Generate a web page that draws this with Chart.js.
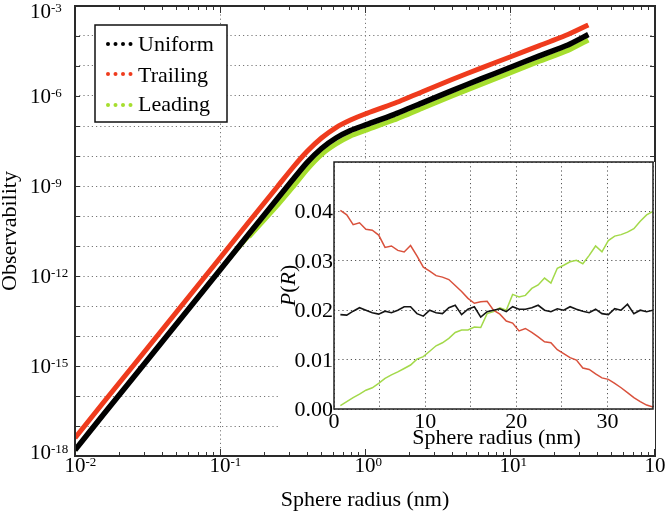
<!DOCTYPE html>
<html><head><meta charset="utf-8">
<script src="https://cdn.jsdelivr.net/npm/chart.js@4"></script>
<style>
html,body{margin:0;padding:0;background:#fff;}
#wrap{position:relative;width:666px;height:512px;overflow:hidden;}
#main{position:absolute;left:0;top:0;}
#inset{position:absolute;left:276px;top:158px;}
</style></head><body>
<div id="wrap"><canvas id="main" width="666" height="512"></canvas><canvas id="inset" width="379" height="296"></canvas></div>
<script>
// ---- main (log-log) data ----
const mainRadius   = [0.01,0.0158,0.0251,0.0398,0.0631,0.1,0.158,0.251,0.316,0.398,0.501,0.631,0.794,1.0,1.58,2.51,3.98,6.31,10,15.8,25.1,34.7];
const mainUniform  = [1.58e-18,2.51e-17,3.98e-16,6.31e-15,1.0e-13,1.58e-12,2.51e-11,3.98e-10,1.58e-9,6.03e-9,1.78e-8,3.98e-8,7.08e-8,1.07e-7,2.40e-7,6.03e-7,1.51e-6,3.72e-6,8.91e-6,2.14e-5,5.01e-5,1.12e-4];
const mainTrailing = [3.98e-18,6.31e-17,1.0e-15,1.58e-14,2.51e-13,3.98e-12,6.31e-11,1.0e-9,3.98e-9,1.41e-8,3.98e-8,8.91e-8,1.58e-7,2.51e-7,5.62e-7,1.41e-6,3.55e-6,8.51e-6,2.0e-5,4.68e-5,1.12e-4,2.34e-4];
const mainLeading  = [1.51e-18,2.40e-17,3.80e-16,6.03e-15,9.55e-14,1.51e-12,2.0e-11,2.40e-10,8.91e-10,3.55e-9,1.12e-8,2.51e-8,4.68e-8,7.08e-8,1.58e-7,3.98e-7,1.0e-6,2.45e-6,5.89e-6,1.41e-5,3.31e-5,7.41e-5];

// main axis ticks / grid
const mainXGrid = [0.1,1,10];
const mainYGrid = [1e-17,1e-16,1e-15,1e-14,1e-13,1e-12,1e-11,1e-10,1e-9,1e-8,1e-7,1e-6,1e-5,1e-4];
const mainXLabelVals = [0.01,0.1,1,10,100];
const mainXLabelExps = ['-2','-1','0','1','2'];
const mainYLabelVals = [1e-18,1e-15,1e-12,1e-9,1e-6,1e-3];
const mainYLabelExps = ['-18','-15','-12','-9','-6','-3'];

// ---- inset (linear) data ----
const insetRadius   = [0.7,1.4,2.1,2.8,3.5,4.2,4.9,5.6,6.3,7.0,7.7,8.4,9.1,9.8,10.5,11.2,11.9,12.6,13.3,14.0,14.7,15.4,16.1,16.8,17.5,18.2,18.9,19.6,20.3,21.0,21.7,22.4,23.1,23.8,24.5,25.2,25.9,26.6,27.3,28.0,28.7,29.4,30.1,30.8,31.5,32.2,32.9,33.6,34.3,35.0];
const insetUniform  = [0.0191,0.0190,0.0198,0.0205,0.0200,0.0195,0.0192,0.0198,0.0195,0.0200,0.0207,0.0207,0.0193,0.0188,0.0200,0.0195,0.0193,0.0205,0.0210,0.0191,0.0202,0.0207,0.0186,0.0197,0.0200,0.0203,0.0197,0.0207,0.0202,0.0202,0.0205,0.0210,0.0200,0.0197,0.0203,0.0200,0.0207,0.0202,0.0198,0.0195,0.0202,0.0193,0.0191,0.0203,0.0200,0.0212,0.0193,0.0200,0.0197,0.0200];
const insetTrailing = [0.0402,0.0393,0.0373,0.0377,0.0364,0.0362,0.0352,0.0327,0.0330,0.0321,0.0318,0.0331,0.0310,0.0287,0.0279,0.0270,0.0267,0.0262,0.0250,0.0238,0.0224,0.0214,0.0217,0.0218,0.0200,0.0192,0.0178,0.0174,0.0158,0.0163,0.0155,0.0146,0.0136,0.0134,0.0120,0.0112,0.0104,0.0099,0.0083,0.0080,0.0071,0.0063,0.0060,0.0052,0.0043,0.0033,0.0023,0.0015,0.0008,0.0004];
const insetLeading  = [0.0007,0.0015,0.0023,0.0030,0.0038,0.0043,0.0052,0.0062,0.0069,0.0075,0.0082,0.0089,0.0101,0.0106,0.0117,0.0128,0.0134,0.0143,0.0155,0.0160,0.0160,0.0166,0.0165,0.0193,0.0197,0.0205,0.0200,0.0232,0.0227,0.0230,0.0244,0.0251,0.0265,0.0255,0.0285,0.0291,0.0298,0.0301,0.0294,0.0311,0.0330,0.0318,0.0341,0.0350,0.0353,0.0358,0.0365,0.0380,0.0393,0.0400];
const insetXLabels = [0,10,20,30];
const insetYLabels = [0,0.01,0.02,0.03,0.04];

const legendNames  = ['Uniform','Trailing','Leading'];
const legendColors = ['#000000','#ef3b1d','#a6de2e'];

const SERIF = "'Liberation Serif','Times New Roman',serif";
const pts = (xs, ys) => xs.map((x, i) => ({x: x, y: ys[i]}));

function pow10Label(ctx, exp, x, baseY, align) {
  ctx.font = '21px ' + SERIF;
  const w10 = ctx.measureText('10').width;
  let x0 = align === 'center10' ? x - w10 / 2 : x;
  ctx.textAlign = 'left';
  ctx.textBaseline = 'alphabetic';
  ctx.font = '21px ' + SERIF;
  ctx.fillText('10', x0, baseY);
  ctx.font = '13px ' + SERIF;
  ctx.fillText(exp, x0 + w10, baseY - 6);
}

const mainDecor = {
  id: 'mainDecor',
  afterDraw(chart) {
    const ctx = chart.ctx, a = chart.chartArea;
    const xs = chart.scales.x, ys = chart.scales.y;
    ctx.save();
    ctx.fillStyle = '#000';
    ctx.strokeStyle = '#333'; ctx.lineWidth = 1;
    ctx.beginPath();
    for (let n = -2; n <= 1; n++) {
      for (let m = 1; m <= 9; m++) {
        const v = m * Math.pow(10, n);
        if (v <= 0.0100001) continue;
        const px = Math.round(xs.getPixelForValue(v)) + 0.5;
        const L = m === 1 ? 7 : 4;
        ctx.moveTo(px, a.bottom); ctx.lineTo(px, a.bottom - L);
        ctx.moveTo(px, a.top); ctx.lineTo(px, a.top + L);
      }
    }
    mainYGrid.forEach(v => {
      const py = Math.round(ys.getPixelForValue(v)) + 0.5;
      ctx.moveTo(a.left, py); ctx.lineTo(a.left + 5, py);
      ctx.moveTo(a.right, py); ctx.lineTo(a.right - 5, py);
    });
    ctx.stroke();
    ctx.strokeStyle = '#2a2a2a'; ctx.lineWidth = 2;
    ctx.strokeRect(a.left, a.top, a.right - a.left, a.bottom - a.top);
    mainXLabelVals.forEach((v, i) => {
      pow10Label(ctx, mainXLabelExps[i], xs.getPixelForValue(v), 472, 'center10');
    });
    mainYLabelVals.forEach((v, i) => {
      let yc = ys.getPixelForValue(v);
      yc = Math.max(11, Math.min(452, yc));
      pow10Label(ctx, mainYLabelExps[i], 30, yc + 7, 'left');
    });
    ctx.font = '22px ' + SERIF;
    ctx.textAlign = 'center'; ctx.textBaseline = 'alphabetic';
    ctx.fillText('Sphere radius (nm)', (a.left + a.right) / 2, 506);
    ctx.save();
    ctx.translate(16, (a.top + a.bottom) / 2);
    ctx.rotate(-Math.PI / 2);
    ctx.fillText('Observability', 0, 0);
    ctx.restore();
    // legend
    ctx.fillStyle = '#fff';
    ctx.fillRect(95, 25, 132, 97);
    ctx.strokeStyle = '#111'; ctx.lineWidth = 1.5;
    ctx.strokeRect(95, 25, 132, 97);
    const rowsY = [44, 74, 105], base = [51, 82, 111];
    legendNames.forEach((name, i) => {
      ctx.fillStyle = legendColors[i];
      [108, 115.5, 123, 130.5].forEach(dx => {
        ctx.beginPath(); ctx.arc(dx, rowsY[i], 2, 0, Math.PI * 2); ctx.fill();
      });
      ctx.fillStyle = '#000';
      ctx.font = '22px ' + SERIF;
      ctx.textAlign = 'left';
      ctx.fillText(name, 138, base[i]);
    });
    ctx.restore();
  }
};

// Chart.js paints the first dataset on top, so Trailing > Uniform > Leading
new Chart(document.getElementById('main'), {
  type: 'scatter',
  data: { datasets: [
    { label: 'Trailing', data: pts(mainRadius, mainTrailing), showLine: true, borderColor: '#ef3b1d', borderWidth: 5, pointRadius: 0, tension: 0.2 },
    { label: 'Uniform',  data: pts(mainRadius, mainUniform),  showLine: true, borderColor: '#000000', borderWidth: 5.5, pointRadius: 0, tension: 0.2 },
    { label: 'Leading',  data: pts(mainRadius, mainLeading),  showLine: true, borderColor: '#a6de2e', borderWidth: 5, pointRadius: 0, tension: 0.2,
      segment: { borderWidth: c => (c.p1.parsed.x <= 0.16 ? 3 : 5) } }
  ]},
  options: {
    responsive: false, animation: false, devicePixelRatio: 1,
    layout: { padding: { top: 6, right: 11, left: 0, bottom: 0 } },
    plugins: { legend: { display: false }, tooltip: { enabled: false } },
    scales: {
      x: { type: 'logarithmic', min: 0.01, max: 100,
           afterBuildTicks: s => { s.ticks = mainXGrid.map(v => ({ value: v })); },
           ticks: { display: false },
           grid: { color: '#777', lineWidth: 1, drawTicks: false },
           border: { display: false, dash: [1.2, 3] },
           afterFit: s => { s.height = 56; } },
      y: { type: 'logarithmic', min: 1e-18, max: 1e-3,
           afterBuildTicks: s => { s.ticks = mainYGrid.map(v => ({ value: v })); },
           ticks: { display: false },
           grid: { color: '#777', lineWidth: 1, drawTicks: false },
           border: { display: false, dash: [1.2, 3] },
           afterFit: s => { s.width = 75; } }
    }
  },
  plugins: [mainDecor]
});

const insetDecor = {
  id: 'insetDecor',
  beforeDraw(chart) {
    const ctx = chart.ctx, a = chart.chartArea;
    ctx.save();
    ctx.fillStyle = '#fff';
    ctx.fillRect(a.left, a.top, chart.width - a.left, 291 - a.top);
    ctx.fillRect(2, 54, a.left - 2, 237);
    ctx.restore();
  },
  afterDraw(chart) {
    const ctx = chart.ctx, a = chart.chartArea;
    const xs = chart.scales.x, ys = chart.scales.y;
    ctx.save();
    ctx.strokeStyle = '#222'; ctx.lineWidth = 1.5;
    ctx.strokeRect(a.left, a.top, a.right - a.left, a.bottom - a.top);
    ctx.fillStyle = '#000';
    ctx.font = '22px ' + SERIF;
    ctx.textBaseline = 'alphabetic';
    ctx.textAlign = 'right';
    insetYLabels.forEach(v => {
      ctx.fillText(v.toFixed(2), a.left - 1, ys.getPixelForValue(v) + 7);
    });
    ctx.textAlign = 'center';
    insetXLabels.forEach(v => {
      ctx.fillText(String(v), xs.getPixelForValue(v), 270);
    });
    ctx.fillText('Sphere radius (nm)', (a.left + a.right) / 2 + 3, 286);
    ctx.save();
    ctx.translate(19, (a.top + a.bottom) / 2);
    ctx.rotate(-Math.PI / 2);
    const parts = [['P', true], ['(', false], ['R', true], [')', false]];
    let total = 0;
    parts.forEach(p => { ctx.font = (p[1] ? 'italic ' : '') + '22px ' + SERIF; total += ctx.measureText(p[0]).width; });
    let x = -total / 2;
    ctx.textAlign = 'left';
    parts.forEach(p => { ctx.font = (p[1] ? 'italic ' : '') + '22px ' + SERIF; ctx.fillText(p[0], x, 0); x += ctx.measureText(p[0]).width; });
    ctx.restore();
    ctx.restore();
  }
};

new Chart(document.getElementById('inset'), {
  type: 'scatter',
  data: { datasets: [
    { label: 'Uniform',  data: pts(insetRadius, insetUniform),  showLine: true, borderColor: '#151515', borderWidth: 1.6, pointRadius: 0 },
    { label: 'Trailing', data: pts(insetRadius, insetTrailing), showLine: true, borderColor: '#d9513c', borderWidth: 1.5, pointRadius: 0 },
    { label: 'Leading',  data: pts(insetRadius, insetLeading),  showLine: true, borderColor: '#a3d94a', borderWidth: 1.5, pointRadius: 0 }
  ]},
  options: {
    responsive: false, animation: false, devicePixelRatio: 1,
    layout: { padding: { top: 4, right: 2, left: 0, bottom: 0 } },
    plugins: { legend: { display: false }, tooltip: { enabled: false } },
    scales: {
      x: { type: 'linear', min: 0, max: 35,
           ticks: { display: false, stepSize: 5 },
           grid: { color: '#555', lineWidth: 1, drawTicks: false },
           border: { display: false, dash: [1.2, 3] },
           afterFit: s => { s.height = 45; } },
      y: { type: 'linear', min: 0, max: 0.05,
           ticks: { display: false, stepSize: 0.01 },
           grid: { color: '#555', lineWidth: 1, drawTicks: false },
           border: { display: false, dash: [1.2, 3] },
           afterFit: s => { s.width = 58; } }
    }
  },
  plugins: [insetDecor]
});
</script>
</body></html>
